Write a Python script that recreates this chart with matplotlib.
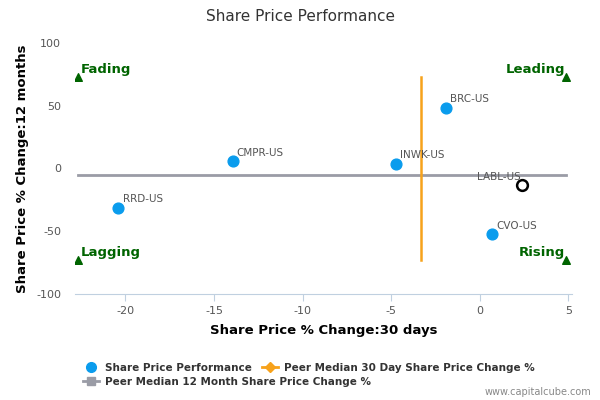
import matplotlib.pyplot as plt
from matplotlib.lines import Line2D

plt.rcParams['axes.unicode_minus'] = False

tickers = ['BRC-US', 'CMPR-US', 'INWK-US', 'RRD-US', 'CVO-US']
chg_30d = [-1.9, -13.95, -4.75, -20.4, 0.7]
chg_12m = [48.6, 5.8, 3.7, -31.5, -52.4]

self_ticker = 'LABL-US'
self_30d = 2.4
self_12m = -13.5

median_30d = -3.3
median_12m = -4.8

quadrants = ['Fading', 'Leading', 'Lagging', 'Rising']
quad_x = [-22.7, 4.9, -22.7, 4.9]
quad_y = [73, 73, -73, -73]

blue = '#0a9ced'
orange = '#f7a21b'
gray = '#9a9ca6'
green = '#006400'

fig = plt.figure(figsize=(6, 4), dpi=100)
ax = fig.add_axes([0.125, 0.265, 0.828, 0.6275])

ax.plot([min(quad_x), max(quad_x)], [median_12m, median_12m], color=gray, lw=2, zorder=1)
ax.plot([median_30d, median_30d], [min(quad_y), max(quad_y)], color=orange, lw=1.8, zorder=1)

ax.scatter(chg_30d, chg_12m, s=60, color=blue, zorder=3)
for t, x, y in zip(tickers, chg_30d, chg_12m):
    ax.annotate(t, (x, y), textcoords='offset points', xytext=(3, 4),
                fontsize=7.5, color='#555555')

ax.scatter([self_30d], [self_12m], s=60, facecolor='white', edgecolor='black', lw=1.8, zorder=3)
ax.annotate(self_ticker, (self_30d, self_12m), textcoords='offset points', xytext=(-1, 4),
            ha='right', fontsize=7.5, color='#555555')

ax.scatter(quad_x, quad_y, marker='^', s=30, color=green, zorder=3)
for q, x, y in zip(quadrants, quad_x, quad_y):
    left = x < 0
    ax.annotate(q, (x, y), textcoords='offset points', xytext=(2 if left else -1, 3),
                ha='left' if left else 'right', fontsize=9.5, fontweight='bold', color=green)

ax.set_xlim(-22.85, 5.2)
ax.set_ylim(-100, 100)
ax.set_xticks([-20, -15, -10, -5, 0, 5])
ax.set_yticks([-100, -50, 0, 50, 100])
for s in ['top', 'right', 'left']:
    ax.spines[s].set_visible(False)
ax.spines['bottom'].set_color('#c0d0e0')
ax.tick_params(axis='x', colors='#c0d0e0', labelcolor='#555555', labelsize=8, length=5)
ax.tick_params(axis='y', length=0, labelcolor='#555555', labelsize=8, pad=10)

ax.set_xlabel('Share Price % Change:30 days', fontsize=9.5, fontweight='bold', labelpad=6)
ax.set_ylabel('Share Price % Change:12 months', fontsize=9.5, fontweight='bold', labelpad=5)
fig.text(0.5, 0.958, 'Share Price Performance', ha='center', va='center', fontsize=11, color='#333333')

h1 = Line2D([], [], marker='o', color=blue, ls='none', markersize=7)
h2 = Line2D([], [], marker='D', color=orange, lw=2, markersize=5)
h3 = Line2D([], [], marker='s', color=gray, lw=2, markersize=6)
leg1 = fig.legend([h1, h2], ['Share Price Performance', 'Peer Median 30 Day Share Price Change %'],
                  loc='center left', bbox_to_anchor=(0.13, 0.08), ncol=2, frameon=False,
                  prop={'size': 7.5, 'weight': 'bold'}, handlelength=1.5, handletextpad=0.6,
                  columnspacing=1.0, borderpad=0, labelcolor='#333333')
leg2 = fig.legend([h3], ['Peer Median 12 Month Share Price Change %'],
                  loc='center left', bbox_to_anchor=(0.13, 0.045), frameon=False,
                  prop={'size': 7.5, 'weight': 'bold'}, handlelength=1.5, handletextpad=0.6,
                  borderpad=0, labelcolor='#333333')
fig.text(0.985, 0.02, 'www.capitalcube.com', ha='right', va='center', fontsize=7, color='#888888')

fig.savefig('out.png', dpi=100)
